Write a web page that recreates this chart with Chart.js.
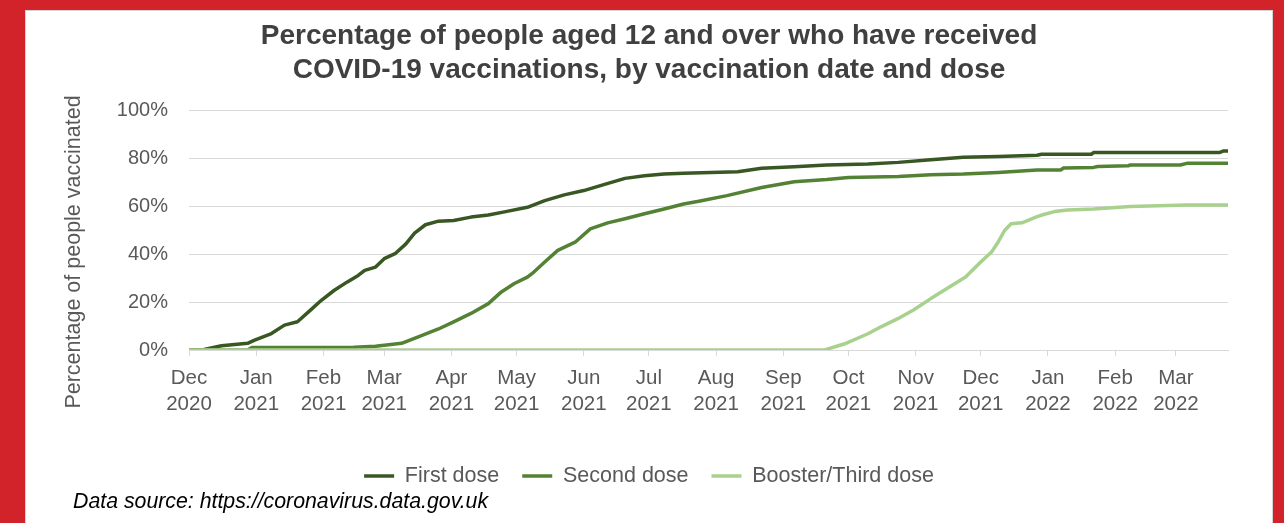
<!DOCTYPE html>
<html>
<head>
<meta charset="utf-8">
<title>COVID-19 vaccinations by dose</title>
<script src="https://cdn.jsdelivr.net/npm/chart.js@4.4.1/dist/chart.umd.min.js"></script>
<style>
  html, body { margin: 0; padding: 0; width: 1284px; height: 523px; overflow: hidden; background: #d2232a; }
  #panel { position: absolute; left: 25px; top: 10px; width: 1248px; height: 513px; background: #ffffff;
           border: 1px solid #d4d4d4; border-bottom: none; box-sizing: border-box; }
  #wrap { position: absolute; left: 25px; top: 11px; width: 1248px; height: 512px; }
</style>
</head>
<body>
<div id="panel"></div>
<div id="wrap"><canvas id="chart"></canvas></div>
<script>
// Days counted from 1 December 2020; values are % of people aged 12+.
const firstDoseDays = [0,7,15,27,30,38,44,50,56,61,67,73,78,81,86,90,95,100,104,109,115,122,130,138,146,156,164,173,182,192,201,210,219,228,253,264,279,294,313,327,342,357,373,391,393,416,417,475,477,479];
const firstDoseValues = [0,0.2,1.8,2.8,4.0,6.9,10.4,11.8,16.7,20.8,25,28.5,31.2,33.3,34.7,38.2,40.3,44.4,48.9,52.4,53.9,54.2,55.6,56.5,57.9,59.7,62.5,64.9,66.7,69.4,71.8,72.9,73.6,74,74.6,76,76.7,77.4,77.8,78.5,79.6,80.6,81,81.5,81.9,81.9,82.6,82.6,83.3,83.3];

const secondDoseDays = [0,27,29,76,86,98,106,115,122,130,138,144,150,156,159,164,170,178,185,193,201,210,219,228,235,248,264,279,294,304,327,342,357,373,391,402,403,417,419,433,434,457,460,479];
const secondDoseValues = [0,0,1.0,1.1,1.6,2.8,5.6,8.8,11.8,15.3,19.4,24.3,27.8,30.5,32.6,36.8,41.7,45.1,50.7,53.2,54.9,57,59,61.1,62.2,64.6,68,70.4,71.3,72.2,72.6,73.3,73.6,74.3,75.3,75.3,76.1,76.4,76.8,77.1,77.4,77.4,78.1,78.1];

const boosterDays = [0,293,302,313,319,327,334,342,350,358,365,370,373,376,379,384,391,394,399,405,417,434,460,479];
const boosterValues = [0,0,2.5,6.8,9.7,13.2,16.7,21.5,26,30.5,36.8,41,45.1,50,52.8,53.2,55.8,56.7,57.9,58.6,59,60,60.7,60.7];

// Month ticks (first day of each month)
const tickDays = [0,31,62,90,121,151,182,212,243,274,304,335,365,396,427,455];
const tickMonths = ['Dec','Jan','Feb','Mar','Apr','May','Jun','Jul','Aug','Sep','Oct','Nov','Dec','Jan','Feb','Mar'];
const tickYears = ['2020','2021','2021','2021','2021','2021','2021','2021','2021','2021','2021','2021','2021','2022','2022','2022'];
const yTicks = [0,20,40,60,80,100];

const seriesNames = ['First dose','Second dose','Booster/Third dose'];
const titleLines = ['Percentage of people aged 12 and over who have received','COVID-19 vaccinations, by vaccination date and dose'];
const yAxisTitle = 'Percentage of people vaccinated';
const sourceNote = 'Data source: https://coronavirus.data.gov.uk';

const FONT = '"Liberation Sans", Arial, sans-serif';
const toPoints = (days, vals) => days.map((d, i) => ({ x: d, y: vals[i] }));

// Rotated axis title and the source note underneath the legend
const extraText = {
  id: 'extraText',
  afterDraw(chart) {
    const ctx = chart.ctx;
    ctx.save();
    ctx.fillStyle = '#595959';
    ctx.font = '21.5px ' + FONT;
    ctx.textAlign = 'center';
    ctx.textBaseline = 'middle';
    ctx.translate(49.5, 241);
    ctx.rotate(-Math.PI / 2);
    ctx.fillText(yAxisTitle, 0, 0);
    ctx.restore();

    ctx.save();
    ctx.fillStyle = '#000000';
    ctx.font = 'italic 21.3px ' + FONT;
    ctx.textAlign = 'left';
    ctx.textBaseline = 'middle';
    ctx.fillText(sourceNote, 48, 491);
    ctx.restore();
  }
};

const lineStyle = (color, order) => ({
  borderColor: color, backgroundColor: color, borderWidth: 3.5,
  pointRadius: 0, tension: 0, fill: false, order: order,
  borderCapStyle: 'round', borderJoinStyle: 'round'
});

new Chart(document.getElementById('chart'), {
  type: 'line',
  data: {
    datasets: [
      Object.assign({ label: seriesNames[0], data: toPoints(firstDoseDays, firstDoseValues) }, lineStyle('#385723', 2)),
      Object.assign({ label: seriesNames[1], data: toPoints(secondDoseDays, secondDoseValues) }, lineStyle('#548235', 1)),
      Object.assign({ label: seriesNames[2], data: toPoints(boosterDays, boosterValues) }, lineStyle('#a9d18e', 0))
    ]
  },
  options: {
    responsive: true,
    maintainAspectRatio: false,
    animation: false,
    layout: { padding: { left: 45, right: 45, top: 0, bottom: 26.25 } },
    plugins: {
      tooltip: { enabled: false },
      title: {
        display: true,
        text: titleLines,
        color: '#404040',
        font: { family: FONT, size: 28, weight: 'bold', lineHeight: 1.214 },
        padding: { top: 8.5, bottom: 23.5 }
      },
      legend: {
        display: true,
        position: 'bottom',
        align: 'center',
        labels: {
          boxWidth: 30,
          boxHeight: 3.5,
          padding: 23,
          color: '#595959',
          font: { family: FONT, size: 21.5 },
          sort: (a, b) => a.datasetIndex - b.datasetIndex,
          generateLabels(chart) {
            const items = Chart.defaults.plugins.legend.labels.generateLabels(chart);
            items.forEach(it => { it.fillStyle = it.strokeStyle; it.lineWidth = 0; });
            return items;
          }
        }
      }
    },
    scales: {
      x: {
        type: 'linear',
        min: 0,
        max: 479,
        afterFit(scale) { scale.height = 92.25; },
        afterBuildTicks(scale) { scale.ticks = tickDays.map(v => ({ value: v })); },
        ticks: {
          autoSkip: false,
          maxRotation: 0,
          minRotation: 0,
          padding: 9,
          color: '#595959',
          font: { family: FONT, size: 20.5, lineHeight: 1.27 },
          callback(value) {
            const i = tickDays.indexOf(value);
            return i < 0 ? '' : [tickMonths[i], tickYears[i]];
          }
        },
        grid: { drawOnChartArea: false, drawTicks: true, tickLength: 6, color: '#d9d9d9', lineWidth: 1 },
        border: { display: true, color: '#d9d9d9', width: 1 }
      },
      y: {
        min: 0,
        max: 100,
        afterFit(scale) { scale.width = 119; },
        afterBuildTicks(scale) { scale.ticks = yTicks.map(v => ({ value: v })); },
        ticks: {
          padding: 21,
          color: '#595959',
          font: { family: FONT, size: 20 },
          callback: v => v + '%'
        },
        grid: { drawTicks: false, color: '#d9d9d9', lineWidth: 1 },
        border: { display: false }
      }
    }
  },
  plugins: [extraText]
});
</script>
</body>
</html>
